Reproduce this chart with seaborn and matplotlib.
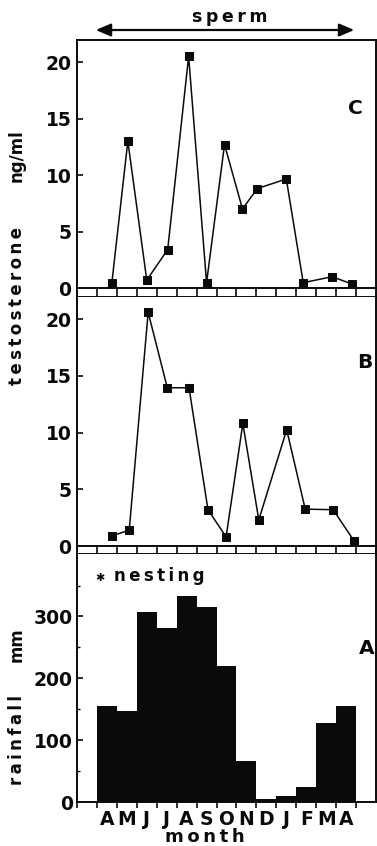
import matplotlib
matplotlib.use("Agg")
import matplotlib.pyplot as plt
from matplotlib.patches import FancyArrowPatch
from matplotlib.ticker import FixedLocator
import numpy as np
import pandas as pd
import seaborn as sns

# ---------------- data ----------------
months = ['A', 'M', 'J', 'J', 'A', 'S', 'O', 'N', 'D', 'J', 'F', 'M', 'A']
rainfall_mm = [155, 147, 308, 282, 333, 316, 220, 66, 5, 9, 25, 127, 156]

# sampling positions (in month units, 0 = first April) and testosterone (ng/ml)
sample_pos_C = [0.25, 1.05, 2.0, 3.05, 4.1, 5.0, 5.9, 6.8, 7.55, 9.0, 9.85, 11.3, 12.3]
testo_C = [0.47, 13.0, 0.7, 3.4, 20.5, 0.47, 12.7, 7.0, 8.8, 9.65, 0.47, 1.0, 0.35]

sample_pos_B = [0.28, 1.12, 2.07, 3.03, 4.12, 5.07, 5.98, 6.82, 7.62, 9.02, 9.95, 11.35, 12.4]
testo_B = [0.9, 1.4, 20.6, 13.95, 13.95, 3.2, 0.8, 10.8, 2.3, 10.25, 3.25, 3.2, 0.45]

testo_ticks = [0, 5, 10, 15, 20]
rain_ticks = [0, 100, 200, 300]
rain_minor = [50, 150, 250, 350]

# ---------------- style ----------------
sns.set_theme(style="white")
black = "#0a0a0a"
plt.rcParams['font.family'] = ['DejaVu Sans']
plt.rcParams['font.weight'] = 'bold'
plt.rcParams['axes.linewidth'] = 1.4
plt.rcParams['text.color'] = black
plt.rcParams['xtick.color'] = black
plt.rcParams['ytick.color'] = black
plt.rcParams['axes.labelcolor'] = black
plt.rcParams['axes.edgecolor'] = black

W, H = 377, 846
fig = plt.figure(figsize=(W / 100, H / 100), dpi=100)


def rect(x0, y0, x1, y1):
    return [x0 / W, 1 - y1 / H, (x1 - x0) / W, (y1 - y0) / H]


def fx(px):
    return px / W


def fy(py):
    return 1 - py / H


XL = (-1.5, 13.5)
LX, RX = 77, 376

axC = fig.add_axes(rect(LX, 40, RX, 288))
st1 = fig.add_axes(rect(LX, 288, RX, 297))
axB = fig.add_axes(rect(LX, 297, RX, 546))
st2 = fig.add_axes(rect(LX, 546, RX, 554))
axA = fig.add_axes(rect(LX, 554, RX, 802))

dfC = pd.DataFrame({"pos": sample_pos_C, "t": testo_C})
dfB = pd.DataFrame({"pos": sample_pos_B, "t": testo_B})
for ax, df in ((axC, dfC), (axB, dfB)):
    sns.lineplot(data=df, x="pos", y="t", ax=ax, color=black, lw=1.1,
                 marker="s", markersize=6.2, markeredgecolor=black,
                 markerfacecolor=black, sort=False, clip_on=False)
    ax.set_xlim(*XL)
    ax.set_ylim(0, 21.95)
    ax.set_yticks(testo_ticks)
    ax.set_yticklabels([str(t) for t in testo_ticks], fontsize=13.5, fontweight='bold')
    ax.set_xticks([])
    ax.set_xlabel("")
    ax.set_ylabel("")
    ax.tick_params(axis='y', direction='in', length=4, width=1.2, pad=4, left=True,
                   labelcolor=black)
    for s in ax.spines.values():
        s.set_color(black)
        s.set_linewidth(1.4)
    ax.spines['bottom'].set_visible(False)
axB.spines['top'].set_visible(False)

# strips between panels
for st in (st1, st2):
    st.set_xlim(*XL)
    st.set_ylim(0, 1)
    st.set_xticks([])
    st.set_yticks([])
    st.vlines(np.arange(-0.5, 13.0, 1.0), 0, 1, color=black, lw=1.2)
    for s in st.spines.values():
        s.set_color(black)
        s.set_linewidth(1.4)

# rainfall bars
dfA = pd.DataFrame({"pos": list(range(len(months))), "rain": rainfall_mm})
sns.barplot(data=dfA, x="pos", y="rain", ax=axA, native_scale=True,
            width=1.0, color=black, saturation=1, edgecolor=black, linewidth=0)
axA.set_xlim(*XL)
axA.set_ylim(0, 401)
axA.set_yticks(rain_ticks)
axA.set_yticklabels([str(t) for t in rain_ticks], fontsize=13.5, fontweight='bold')
axA.yaxis.set_minor_locator(FixedLocator(rain_minor))
axA.tick_params(axis='y', which='major', direction='in', length=4, width=1.2, pad=3,
                left=True, labelcolor=black)
axA.tick_params(axis='y', which='minor', direction='in', length=2.5, width=1.0, left=True)
axA.set_xticks(np.arange(-1.5, 13.0, 1.0))
axA.set_xticklabels([])
axA.set_xticks(list(range(len(months))), minor=True)
axA.set_xticklabels(months, minor=True, fontsize=13.5, fontweight='bold')
axA.tick_params(axis='x', which='major', direction='out', length=4, width=1.2, bottom=True)
axA.tick_params(axis='x', which='minor', length=0, pad=6, bottom=True, labelcolor=black)
axA.set_xlabel("")
axA.set_ylabel("")
for s in axA.spines.values():
    s.set_color(black)
    s.set_linewidth(1.4)
axA.spines['top'].set_visible(False)

# ---------------- texts ----------------
ts = "\u2009"
fig.text(fx(230), fy(17), ts.join("sperm"), ha='center', va='center',
         fontsize=12.5, fontweight='bold', color=black)
arrow = FancyArrowPatch((fx(93), fy(30)), (fx(357), fy(30)), transform=fig.transFigure,
                        arrowstyle='<|-|>,head_length=0.75,head_width=0.32',
                        mutation_scale=12, lw=1.6, color=black)
fig.add_artist(arrow)

fig.text(fx(355), fy(108), "C", ha='center', va='center', fontsize=14.5, fontweight='bold', color=black)
fig.text(fx(365), fy(362), "B", ha='center', va='center', fontsize=14.5, fontweight='bold', color=black)
fig.text(fx(367), fy(648), "A", ha='center', va='center', fontsize=14.5, fontweight='bold', color=black)

fig.text(fx(17), fy(156), "ng/ml", rotation=90, ha='center', va='center',
         fontsize=12, fontweight='bold', color=black)
fig.text(fx(17), fy(306), ts.join("testosterone"), rotation=90, ha='center', va='center',
         fontsize=12, fontweight='bold', color=black)
fig.text(fx(17), fy(645), "mm", rotation=90, ha='center', va='center',
         fontsize=12, fontweight='bold', color=black)
fig.text(fx(17), fy(740), ts.join("rainfall"), rotation=90, ha='center', va='center',
         fontsize=12, fontweight='bold', color=black)

fig.text(fx(100), fy(578), "\u2731", ha='center', va='center', fontsize=8, color=black)
fig.text(fx(114), fy(576), ts.join("nesting"), ha='left', va='center',
         fontsize=12, fontweight='bold', color=black)
fig.text(fx(205), fy(837), ts.join("month"), ha='center', va='center',
         fontsize=13, fontweight='bold', color=black)

fig.savefig("out.png", dpi=100)
